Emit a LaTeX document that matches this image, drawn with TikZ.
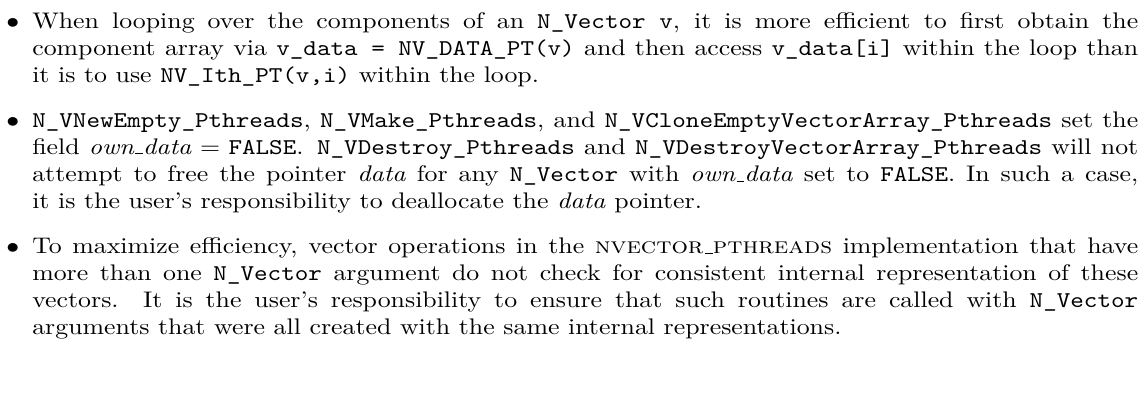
\documentclass[tikz,border=0pt]{standalone}
\usepackage{graphicx}
\usepackage{tikz}
\renewcommand\labelitemi{$\bullet$}
% short baseline rule used as the underscore in italic and small-caps names
\newcommand\shortbar{\leavevmode\kern.06em\vbox{\hrule width.3em}}
\tikzset{
  textblock/.style={anchor=base west, inner sep=0pt, outer sep=0pt}
}
\begin{document}
\begin{tikzpicture}
  % page frame
  \useasboundingbox (0pt,0pt) rectangle (443.5pt,152.9pt);
  % bulleted notes; the list is indented by 25pt, so the item text starts at x = 12.5pt
  \node[textblock] (notes) at (-12.5pt,142.06pt) {%
    \scalebox{1}[0.873]{%
    \begin{minipage}[t]{453pt}
    \hyphenpenalty=10000
    \begin{itemize}
      \item When looping over the components of an \texttt{N\_Vector v}, it is
        more efficient to first obtain the component array via
        \texttt{v\_data = NV\_DATA\_PT(v)} and then access \texttt{v\_data[i]}
        within the loop than it is to use \texttt{NV\_Ith\_PT(v,i)} within the loop.
      \item \texttt{N\_VNewEmpty\_Pthreads}, \texttt{N\_VMake\_Pthreads}, and
        \texttt{N\_VCloneEmptyVectorArray\_Pthreads} set the field
        $\mbox{\emph{own\shortbar data}} = \mbox{\texttt{FALSE}}$. \texttt{N\_VDestroy\_Pthreads} and
        \texttt{N\_VDestroyVectorArray\_Pthreads} will not attempt to free the
        pointer \emph{data} for any \texttt{N\_Vector} with \emph{own\shortbar data} set
        to \texttt{FALSE}. In such a case,\linebreak{} it is the user's responsibility to
        deallocate the \emph{data} pointer.
      \item To maximize efficiency, vector operations in the
        \textsc{nvector\shortbar pthreads} implementation that have more than one
        \texttt{N\_Vector} argument do not check for consistent internal
        representation of these vectors. It is the user's responsibility to
        ensure that such routines are called with \texttt{N\_Vector} arguments
        that were all created with the same internal representations.
    \end{itemize}
    \end{minipage}}};
\end{tikzpicture}
\end{document}
